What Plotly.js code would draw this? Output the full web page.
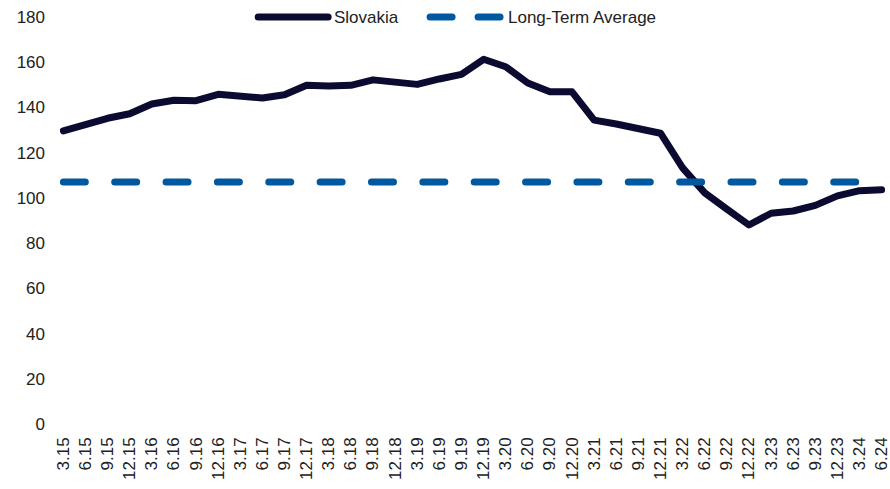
<!DOCTYPE html>
<html>
<head>
<meta charset="utf-8">
<script src="https://cdn.plot.ly/plotly-3.0.1.min.js"></script>
<style>
html,body{margin:0;padding:0;background:#fff;}
#chart{width:890px;height:489px;}
</style>
</head>
<body>
<div id="chart"></div>
<script>
const quarters = ["3.15","6.15","9.15","12.15","3.16","6.16","9.16","12.16","3.17","6.17","9.17","12.17",
  "3.18","6.18","9.18","12.18","3.19","6.19","9.19","12.19","3.20","6.20","9.20","12.20",
  "3.21","6.21","9.21","12.21","3.22","6.22","9.22","12.22","3.23","6.23","9.23","12.23","3.24","6.24"];
const slovakia = [129.6,132.5,135.2,137.2,141.5,143.2,143.0,145.8,144.7,144.2,145.6,149.8,
  149.5,149.8,152.2,151.1,150.2,152.6,154.6,161.3,158.0,150.8,146.9,146.9,
  134.4,132.7,130.4,128.6,113.3,102.2,95.0,88.0,93.2,94.2,96.7,100.9,103.2,103.6];
const longTermAvg = [107,107,107,107,107,107,107,107,107,107,107,107,
  107,107,107,107,107,107,107,107,107,107,107,107,
  107,107,107,107,107,107,107,107,107,107,107,107,107,107];
const seriesNames = ["Slovakia","Long-Term Average"];
const yTicks = [0,20,40,60,80,100,120,140,160,180];

const navy = "#0b0a30";
const blue = "#0059a0";
const fontFam = "Liberation Sans, Arial, sans-serif";
const textCol = "#222";

const traces = [
  {x: quarters, y: slovakia, type: "scatter", mode: "lines", name: seriesNames[0],
   line: {color: navy, width: 7}, hoverinfo: "skip", showlegend: false},
  {x: quarters, y: longTermAvg, type: "scatter", mode: "lines", name: seriesNames[1],
   line: {color: blue, width: 7, dash: "22px,29px"}, hoverinfo: "skip", showlegend: false}
];

const layout = {
  width: 890, height: 489,
  margin: {l: 60, r: 5, t: 17, b: 65},
  paper_bgcolor: "#fff", plot_bgcolor: "#fff",
  font: {family: fontFam, color: textCol},
  xaxis: {type: "category", range: [-0.15, 37.15], tickangle: -90, showgrid: false, zeroline: false,
    showline: false, ticks: "", tickfont: {size: 17, family: fontFam, color: textCol}, ticklabelstandoff: 9,
    fixedrange: true},
  yaxis: {range: [0, 180], tickvals: yTicks, showgrid: false, zeroline: false, showline: false, ticks: "",
    tickfont: {size: 17, family: fontFam, color: textCol}, ticklabelstandoff: 14, fixedrange: true},
  shapes: [
    {type: "line", xref: "paper", yref: "paper", x0: 0.2402, x1: 0.3250, y0: 1.0, y1: 1.0,
     line: {color: navy, width: 7}},
    {type: "line", xref: "paper", yref: "paper", x0: 0.4486, x1: 0.5334, y0: 1.0, y1: 1.0,
     line: {color: blue, width: 7, dash: "22px,26px"}}
  ],
  annotations: [
    {xref: "paper", yref: "paper", x: 0.3298, y: 1.0, xanchor: "left", yanchor: "middle",
     text: seriesNames[0], showarrow: false, font: {size: 17, family: fontFam, color: textCol}},
    {xref: "paper", yref: "paper", x: 0.5406, y: 1.0, xanchor: "left", yanchor: "middle",
     text: seriesNames[1], showarrow: false, font: {size: 17, family: fontFam, color: textCol}}
  ],
  showlegend: false
};

Plotly.newPlot("chart", traces, layout, {displayModeBar: false, staticPlot: true}).then(function(){
  document.querySelectorAll(".scatterlayer path.js-line, .shapelayer path").forEach(function(p){
    p.style.strokeLinecap = "round";
    p.style.strokeLinejoin = "round";
  });
  const lta = document.querySelectorAll(".scatterlayer .trace")[1];
  if (lta) lta.querySelectorAll("path.js-line").forEach(function(p){ p.style.strokeDasharray = "22px,29.36px"; });
});
</script>
</body>
</html>
